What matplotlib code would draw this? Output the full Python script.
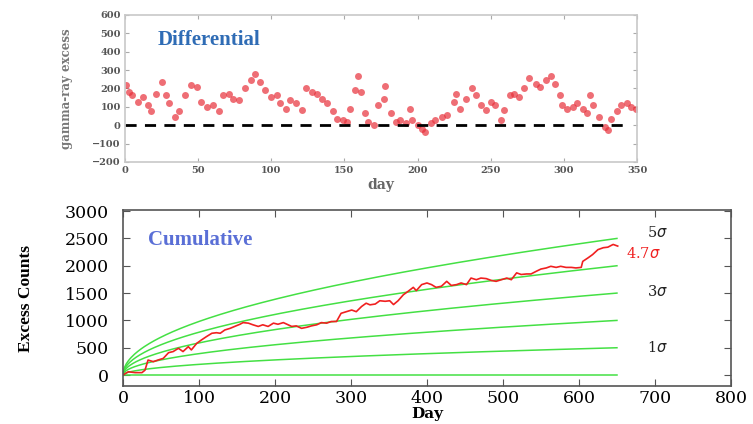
import numpy as np
import matplotlib
matplotlib.use('Agg')
import matplotlib.pyplot as plt

# differential: daily gamma-ray excess
diff_day = [1, 3, 5, 9, 12, 16, 18, 21, 25, 28, 30, 34, 37, 41, 45, 49, 52, 56,
            60, 64, 67, 71, 74, 78, 82, 86, 89, 92, 96, 100, 104, 106, 110, 113,
            117, 121, 124, 128, 131, 135, 138, 142, 145, 149, 152, 154, 157, 159,
            161, 164, 166, 170, 173, 177, 178, 182, 185, 188, 192, 195, 196, 200,
            203, 205, 209, 212, 217, 220, 225, 226, 229, 233, 237, 240, 243, 247,
            250, 253, 257, 259, 263, 266, 269, 273, 276, 281, 284, 288, 291, 294,
            297, 299, 302, 306, 309, 313, 316, 318, 320, 324, 328, 330, 332, 336,
            339, 343, 346, 349]
diff_val = [217, 180, 165, 127, 155, 110, 75, 170, 235, 165, 120, 45, 75, 165,
            217, 210, 127, 100, 110, 75, 165, 170, 145, 135, 200, 245, 280, 235,
            190, 155, 165, 120, 90, 135, 120, 85, 200, 180, 170, 145, 120, 75, 35,
            30, 20, 90, 190, 265, 180, 65, 20, 0, 110, 145, 215, 65, 20, 30, 10,
            90, 30, 0, -20, -35, 10, 30, 45, 55, 125, 170, 90, 145, 200, 165, 110,
            80, 127, 110, 30, 80, 165, 170, 155, 200, 255, 225, 210, 245, 270, 225,
            165, 110, 90, 100, 120, 90, 65, 165, 110, 45, -10, -25, 35, 75, 110,
            120, 100, 90]

# cumulative excess counts
cum_day = [0, 7, 16, 25, 29, 33, 40, 46, 53, 60, 66, 73, 79, 86, 90, 97, 103,
           110, 117, 123, 128, 134, 141, 147, 154, 158, 165, 171, 178, 184, 191,
           198, 204, 211, 215, 222, 228, 235, 242, 248, 255, 261, 268, 274, 281,
           287, 294, 301, 307, 314, 320, 325, 332, 338, 345, 351, 356, 362, 369,
           375, 382, 386, 393, 400, 406, 412, 419, 426, 432, 439, 445, 452, 458,
           465, 471, 478, 485, 491, 498, 505, 511, 518, 524, 531, 537, 544, 550,
           557, 563, 570, 576, 583, 590, 596, 603, 605, 612, 618, 625, 632, 638,
           645, 651]
cum_val = [0, 60, 45, 45, 90, 275, 245, 275, 305, 410, 430, 490, 430, 520, 460,
           580, 640, 705, 765, 775, 765, 825, 855, 890, 930, 960, 950, 920, 890,
           920, 890, 950, 930, 960, 935, 890, 900, 855, 875, 900, 920, 960, 950,
           980, 980, 1130, 1160, 1190, 1160, 1255, 1315, 1285, 1300, 1360, 1350,
           1360, 1290, 1360, 1470, 1530, 1605, 1545, 1655, 1685, 1655, 1605, 1625,
           1715, 1640, 1655, 1685, 1655, 1775, 1745, 1775, 1765, 1730, 1715, 1745,
           1775, 1745, 1870, 1840, 1850, 1850, 1900, 1940, 1960, 1990, 1970, 1990,
           1970, 1970, 1960, 1970, 2080, 2145, 2205, 2295, 2330, 2340, 2390, 2360]

# significance envelope: n-sigma curves, 1 sigma = 500 counts at day 650
sigma_levels = [0, 1, 2, 3, 4, 5]
sigma_end_day = 650
sigma_at_end = 500
sigma_labels = ['5$\\sigma$', '3$\\sigma$', '1$\\sigma$']
sigma_label_y = [2600, 1530, 500]

SERIF = 'DejaVu Serif'
TIMES = 'Liberation Serif'

fig = plt.figure(figsize=(7.53, 4.24), dpi=100)

# ---- top panel: differential
ax1 = fig.add_axes([0.166, 0.618, 0.680, 0.347])
ax1.plot(diff_day, diff_val, 'o', ms=5, color='#e8303a', alpha=0.7, mec='none')
ax1.hlines(0, 0, 341, colors='black', linestyles=(0, (4, 3)), linewidth=2)
ax1.set_xlim(0, 350)
ax1.set_ylim(-200, 600)
ax1.set_xticks(np.arange(0, 351, 50))
ax1.set_yticks(np.arange(-200, 601, 100))
for s in ax1.spines.values():
  s.set_color('#c8c8c8')
  s.set_linewidth(1.2)
ax1.tick_params(direction='in', length=3, color='#aaaaaa', top=True, right=True,
                labelsize=7, labelcolor='#555555', pad=3)
for lab in ax1.get_xticklabels() + ax1.get_yticklabels():
  lab.set_family(SERIF)
  lab.set_fontweight('bold')
ax1.set_xlabel('day', family=SERIF, fontsize=10, fontweight='bold', color='#666666', labelpad=2)
ax1.set_ylabel('gamma-ray excess', family=SERIF, fontsize=8.5, fontweight='bold',
               color='#777777', labelpad=14)
ax1.text(0.063, 0.83, 'Differential', transform=ax1.transAxes, family=TIMES,
         fontsize=15, fontweight='bold', color='#2f6cb5', va='center')

# ---- bottom panel: cumulative
ax2 = fig.add_axes([0.1633, 0.0896, 0.8074, 0.4151])
t = np.linspace(0, sigma_end_day, 300)
for k in sigma_levels:
  ax2.plot(t, k * sigma_at_end * np.sqrt(t / sigma_end_day), color='#44e044', linewidth=1.1)
ax2.plot(cum_day, cum_val, color='#f02020', linewidth=1.2)
for lab, y in zip(sigma_labels, sigma_label_y):
  ax2.text(689, y, lab, family=SERIF, fontsize=10.5, color='#222222', va='center')
ax2.text(662, 2230, '4.7$\\sigma$', family=SERIF, fontsize=10.5, color='#f02020', va='center')
ax2.set_xlim(0, 800)
ax2.set_ylim(-200, 3020)
ax2.set_xticks(np.arange(0, 801, 100))
ax2.set_yticks(np.arange(0, 3001, 500))
for s in ax2.spines.values():
  s.set_color('#555555')
  s.set_linewidth(1.2)
ax2.tick_params(direction='in', length=5, color='#555555', top=True, right=True,
                labelsize=12.5, pad=10)
ax2.tick_params(axis='x', pad=3)
for lab in ax2.get_xticklabels() + ax2.get_yticklabels():
  lab.set_family(SERIF)
ax2.set_xlabel('Day', family=SERIF, fontsize=11, fontweight='bold', labelpad=0)
ax2.set_ylabel('Excess Counts', family=TIMES, fontsize=12.5, fontweight='bold', labelpad=22)
ax2.text(0.042, 0.83, 'Cumulative', transform=ax2.transAxes, family=TIMES,
         fontsize=15, fontweight='bold', color='#5a6fd6', va='center')

fig.savefig('out.png', dpi=100)
